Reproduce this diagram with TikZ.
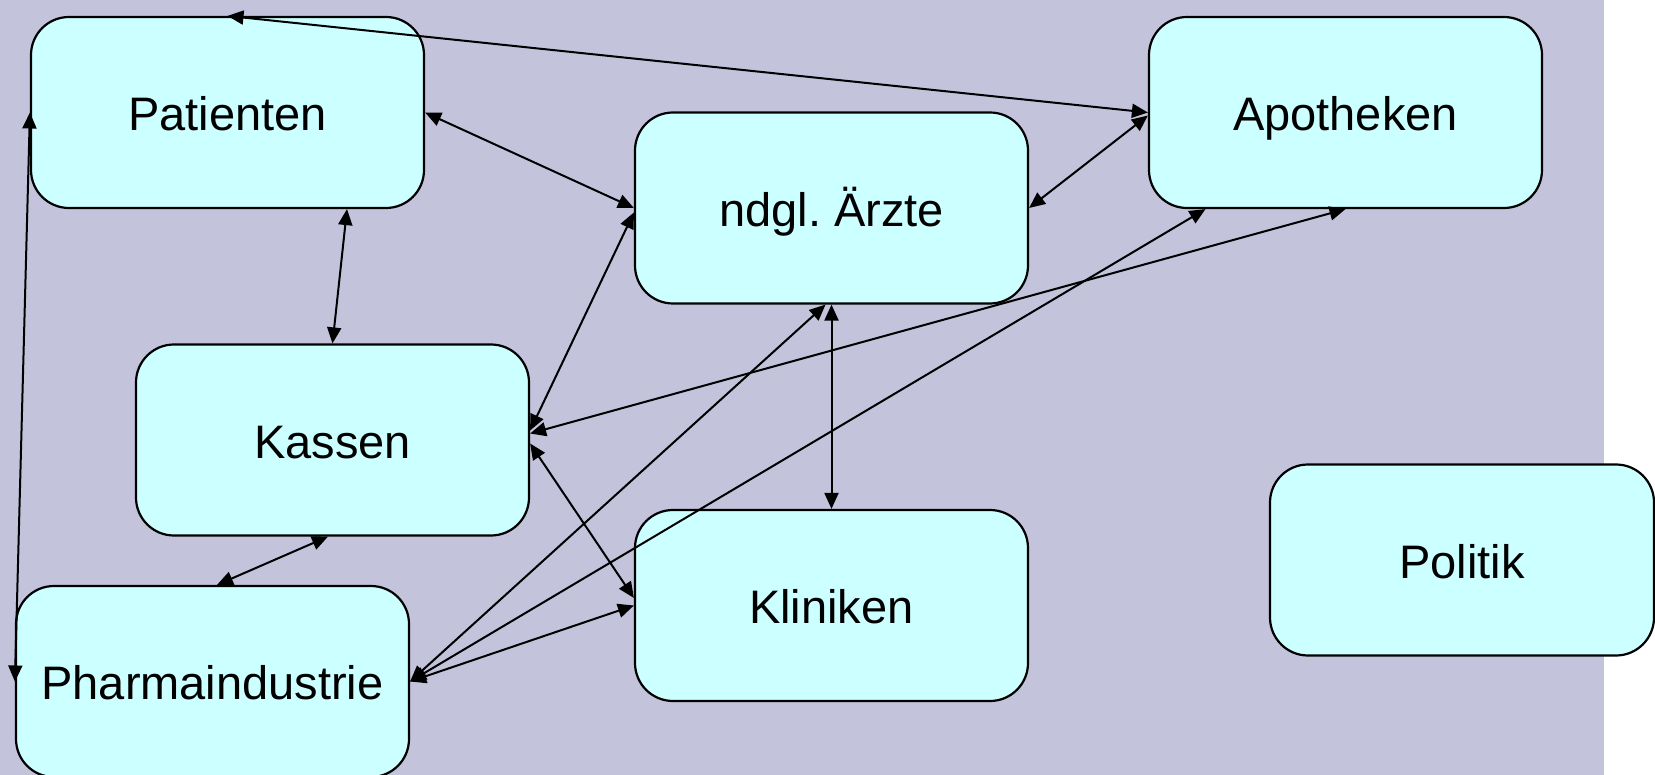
\documentclass[tikz,border=0pt]{standalone}
\usepackage{fontspec}
\setmainfont{Liberation Sans}
\usetikzlibrary{arrows.meta, calc}
\definecolor{hintergrund}{RGB}{195,195,220}
\definecolor{kastenfarbe}{RGB}{204,255,255}
\tikzset{
  kasten/.style={draw=black, line width=2.2pt, fill=kastenfarbe,
    rounded corners=38pt, minimum width=393pt, minimum height=191pt,
    inner sep=0pt, text height=36.5pt, text depth=0pt,
    font=\fontsize{47}{56}\selectfont},
  pfeil/.style={line width=2pt, {Triangle[length=16pt,width=14pt]}-{Triangle[length=16pt,width=14pt]}}
}
\begin{document}
\begin{tikzpicture}[x=1pt,y=-1pt]
  \useasboundingbox (0,0) rectangle (1655,775);
  \fill[hintergrund] (0,0) rectangle (1604,775); % Hintergrund
  % Kästen
  \node[kasten] (pat) at (227.5,112.5) {Patienten};
  \node[kasten] (apo) at (1345.5,112.5) {Apotheken};
  \node[kasten] (arz) at (831.5,208)   {ndgl.\ Ärzte};
  \node[kasten] (kas) at (332.5,440)   {Kassen};
  \node[kasten] (kli) at (831.5,605.5) {Kliniken};
  \node[kasten] (pha) at (212.5,681.5) {Pharmaindustrie};
  \node[kasten, minimum width=384pt] (pol) at (1462,560) {Politik};
  % Verbindungen, beidseitig (Versatz in Bildkoordinaten)
  \foreach \a/\da/\b/\db in {pat.north/{0,0}/apo.west/{0,0},
                             pat.east/{0,0}/arz.west/{0,0},
                             pat.south/{119.5,0}/kas.north/{0,0},
                             pat.west/{0,0}/pha.west/{0,0},
                             arz.west/{0,4.5}/kas.east/{0,-9.5},
                             apo.south/{0,0}/kas.east/{0,-6.5},
                             arz.south/{0,0}/kli.north/{0,0},
                             arz.south/{-6,0}/pha.east/{0,0},
                             apo.south/{-140,0}/pha.east/{0,0},
                             kas.east/{0,3.5}/kli.west/{0,-7.5},
                             pha.east/{0,0}/kli.west/{0,0},
                             kas.south/{-4.5,0}/pha.north/{4.5,0},
                             arz.east/{0,0}/apo.west/{0,3}}
    \draw[pfeil] ($(\a)+(\da)$) -- ($(\b)+(\db)$);
\end{tikzpicture}
\end{document}
